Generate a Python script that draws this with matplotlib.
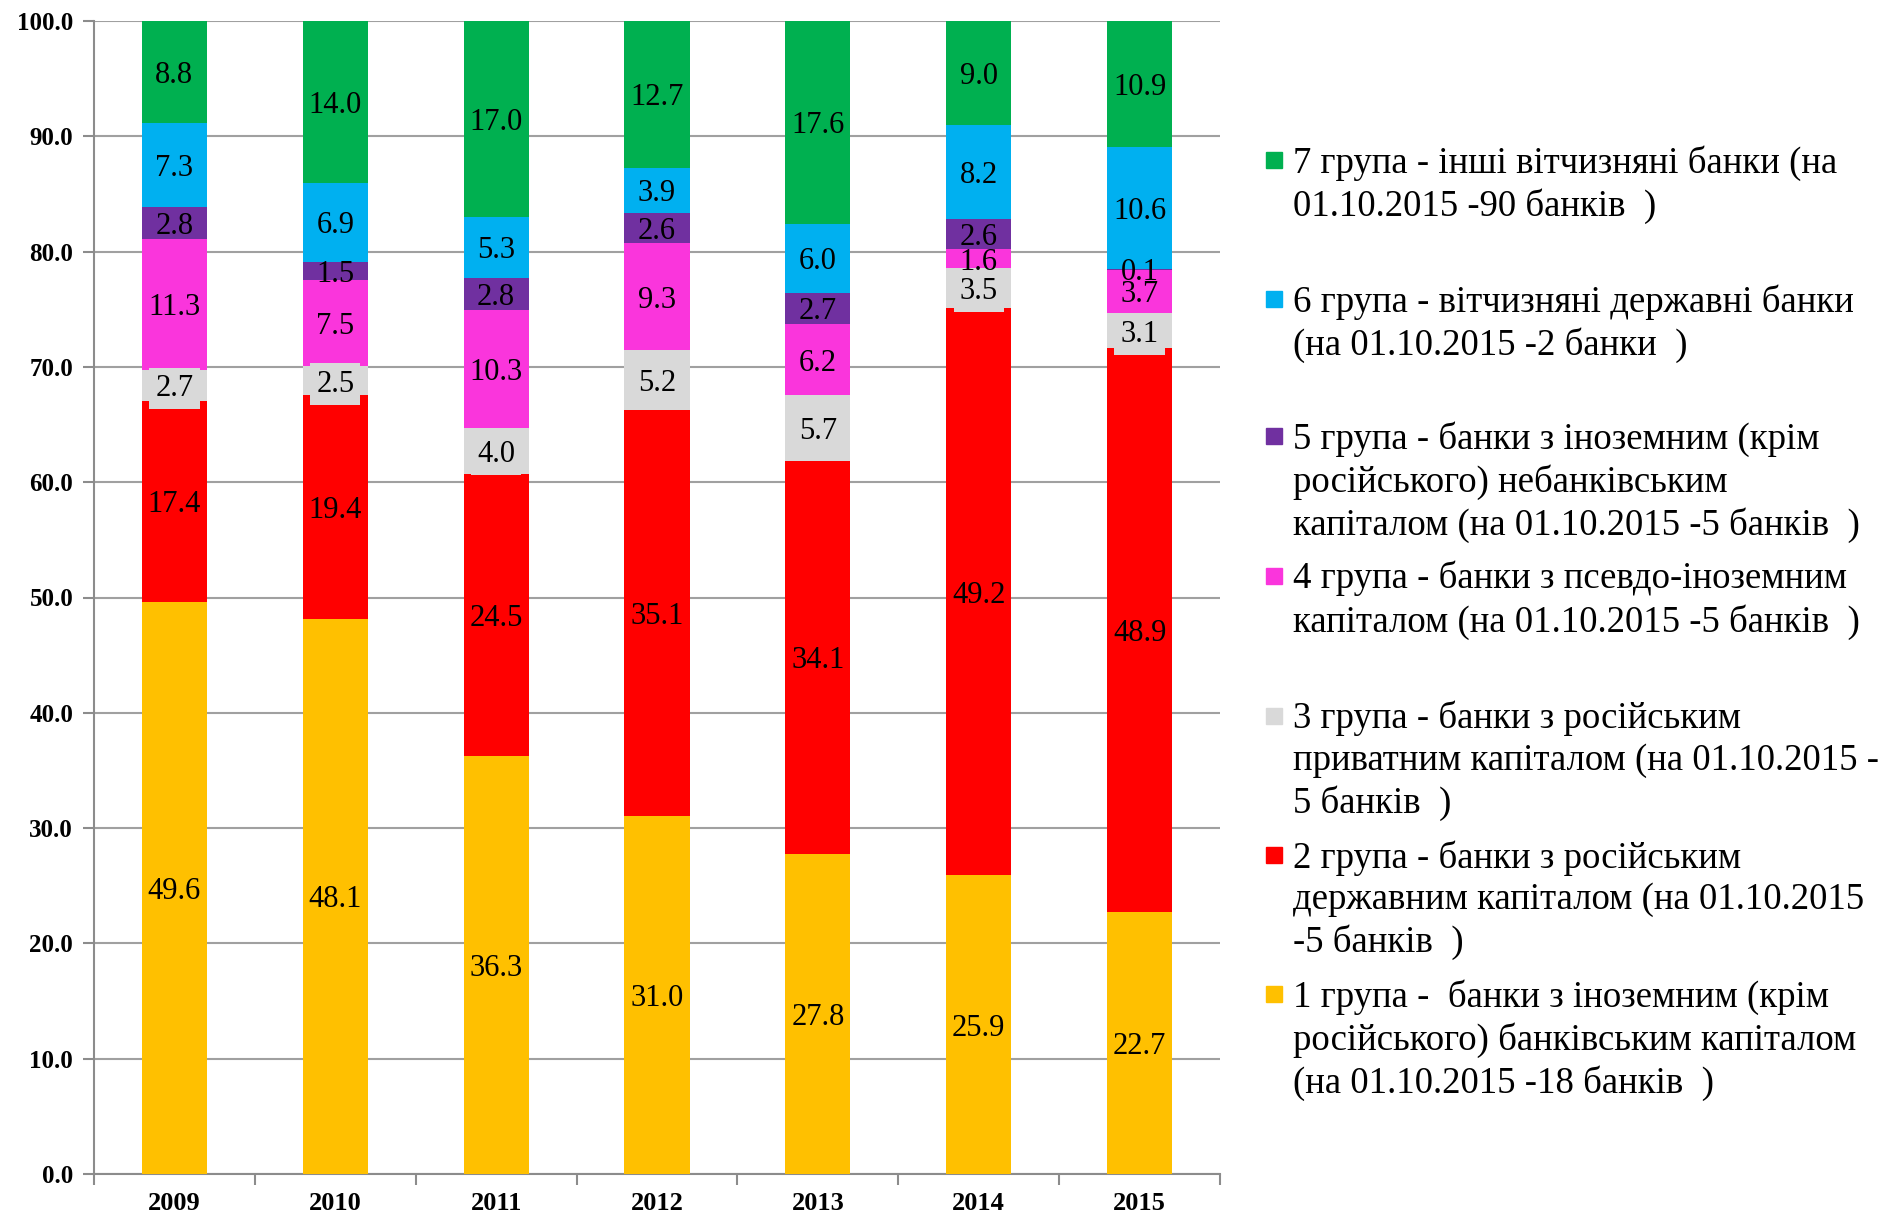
import numpy as np
import matplotlib
matplotlib.use("Agg")
import matplotlib.pyplot as plt
from matplotlib.patches import Rectangle

plt.rcParams['font.family'] = ['Liberation Serif', 'DejaVu Serif']

years = ['2009', '2010', '2011', '2012', '2013', '2014', '2015']

# частки груп банків, % (знизу вгору)
group1 = [49.6, 48.1, 36.3, 31.0, 27.8, 25.9, 22.7]
group2 = [17.4, 19.4, 24.5, 35.1, 34.1, 49.2, 48.9]
group3 = [2.7, 2.5, 4.0, 5.2, 5.7, 3.5, 3.1]
group4 = [11.3, 7.5, 10.3, 9.3, 6.2, 1.6, 3.7]
group5 = [2.8, 1.5, 2.8, 2.6, 2.7, 2.6, 0.1]
group6 = [7.3, 6.9, 5.3, 3.9, 6.0, 8.2, 10.6]
group7 = [8.8, 14.0, 17.0, 12.7, 17.6, 9.0, 10.9]

labels = [
    "1 група -  банки з іноземним (крім\nросійського) банківським капіталом\n(на 01.10.2015 -18 банків  )",
    "2 група - банки з російським\nдержавним капіталом (на 01.10.2015\n-5 банків  )",
    "3 група - банки з російським\nприватним капіталом (на 01.10.2015 -\n5 банків  )",
    "4 група - банки з псевдо-іноземним\nкапіталом (на 01.10.2015 -5 банків  )",
    "5 група - банки з іноземним (крім\nросійського) небанківським\nкапіталом (на 01.10.2015 -5 банків  )",
    "6 група - вітчизняні державні банки\n(на 01.10.2015 -2 банки  )",
    "7 група - інші вітчизняні банки (на\n01.10.2015 -90 банків  )",
]
colors = ['#FFC000', '#FF0000', '#D9D9D9', '#FA35DC', '#7030A0', '#00B0F0', '#00B050']
groups = [group1, group2, group3, group4, group5, group6, group7]

W, H = 1891, 1217
fig = plt.figure(figsize=(W / 100, H / 100), dpi=100)
ax = fig.add_axes([94 / W, 1 - 1174 / H, (1220 - 94) / W, (1174 - 21) / H])

x = np.arange(len(years))
totals = np.sum(np.array(groups), axis=0)  # 100% stacked, як в Excel
bottom = np.zeros(len(years))
for i, (vals, c) in enumerate(zip(groups, colors)):
    vals = np.array(vals)
    h = vals / totals * 100
    ax.bar(x, h, 0.405, bottom=bottom, color=c, zorder=3)
    for xi, b, hh, v in zip(x, bottom, h, vals):
        box = None
        if i == 2:
            box = dict(boxstyle='square,pad=0.2', fc=c, ec='none')
        ax.text(xi, b + hh / 2, f"{v:.1f}", ha='center', va='center_baseline',
                fontsize=22, color='black', zorder=4, bbox=box)
    bottom += h

ax.set_ylim(0, 100)
ax.set_xlim(-0.5, len(years) - 0.5)
ax.set_yticks(np.arange(0, 101, 10))
ax.set_yticklabels([f"{v:.1f}" for v in np.arange(0, 101, 10)],
                   fontsize=18, fontweight='bold')
ax.set_xticks(np.arange(-0.5, len(years), 1))
ax.set_xticklabels([''] * (len(years) + 1))
ax.set_xticks(x, minor=True)
ax.set_xticklabels(years, minor=True, fontsize=19, fontweight='bold')
ax.tick_params(axis='x', which='minor', length=0, pad=13)
ax.tick_params(axis='x', which='major', length=8, width=1.5, color='#8C8C8C')
ax.tick_params(axis='y', length=8, width=1.5, color='#8C8C8C', pad=7)
ax.grid(axis='y', color='#A0A0A0', linewidth=1.5, zorder=0)
for s in ['top', 'right']:
    ax.spines[s].set_visible(False)
for s in ['left', 'bottom']:
    ax.spines[s].set_color('#8C8C8C')
    ax.spines[s].set_linewidth(1.5)

# легенда вручну (як в Excel)
baselines = [1006, 867, 728, 588, 448, 311, 172]
for lab, c, yb in zip(labels, colors, baselines):
    fig.patches.append(Rectangle((1266 / W, 1 - (yb - 4) / H), 16 / W, 16 / H,
                                 transform=fig.transFigure, color=c))
    fig.text(1293 / W, 1 - (yb - 27) / H, lab, fontsize=26.5, va='top',
             ha='left', linespacing=1.27)

fig.savefig('out.png', dpi=100)
